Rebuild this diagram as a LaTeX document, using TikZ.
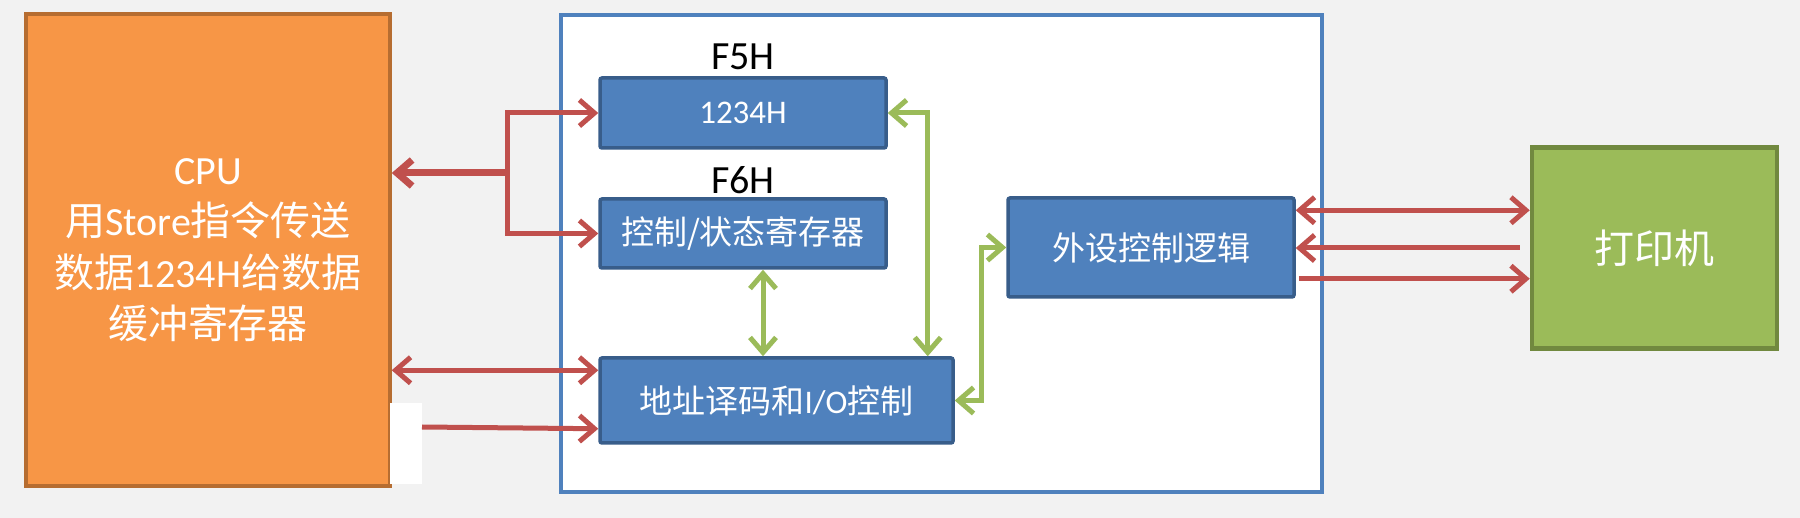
\documentclass[tikz,border=0pt]{standalone}
\usepackage{fontspec}
\setmainfont{Carlito}
\newfontfamily\cjk{Noto Sans CJK SC}
\newcommand{\zh}[1]{{\cjk #1}}
\usetikzlibrary{arrows.meta}
\definecolor{bgray}{HTML}{F2F2F2}
\definecolor{cpuorange}{HTML}{F79646}
\definecolor{cpuedge}{HTML}{B66D31}
\definecolor{regblue}{HTML}{4F81BD}
\definecolor{regedge}{HTML}{385D8A}
\definecolor{prngreen}{HTML}{9BBB59}
\definecolor{prnedge}{HTML}{71893F}
\definecolor{busred}{HTML}{C0504D}
\definecolor{busgreen}{HTML}{9BBB59}

\begin{document}
\begin{tikzpicture}[x=1pt,y=-1pt,
                    >={Straight Barb[length=15pt,width=26pt]},
                    cpubox/.style={draw=cpuedge, fill=cpuorange, line width=3.5pt, text=white,
                                   align=center, inner sep=0pt, font=\fontsize{40}{51.5}\selectfont},
                    regbox/.style={draw=regedge, fill=regblue, line width=3.5pt, rounded corners=2pt,
                                   text=white, inner sep=0pt, font=\fontsize{33}{40}\selectfont},
                    prnbox/.style={draw=prnedge, fill=prngreen, line width=4.5pt, text=white,
                                   inner sep=0pt, font=\fontsize{40}{48}\selectfont},
                    addr/.style={inner sep=0pt, font=\fontsize{40}{48}\selectfont},
                    redbus/.style={draw=busred, line width=5pt},
                    greenbus/.style={draw=busgreen, line width=5pt}]

  \fill[bgray] (0,0) rectangle (1800,518);
  \useasboundingbox (0,0) rectangle (1800,518);

  % interface frame
  \draw[regblue, fill=white, line width=3.5pt] (561,15) rectangle (1322,492);

  \node[cpubox, minimum width=364pt, minimum height=472pt] (cpu) at (208,250)
        {CPU\\\zh{用}Store\zh{指令传送}\\\zh{数据}1234H\zh{给数据}\\\zh{缓冲寄存器}};
  \fill[white] (389.5,403) rectangle (422,484);

  \node[addr] (f5) at (743,57) {F5H};
  \node[regbox, minimum width=286pt, minimum height=70pt] (buf) at (743,113) {1234H};
  \node[addr] (f6) at (743,180) {F6H};
  \node[regbox, minimum width=286pt, minimum height=69pt] (ctrl) at (743,233.5)
        {\zh{控制/状态寄存器}};
  \node[regbox, minimum width=353pt, minimum height=85pt] (dec) at (776.5,400.5)
        {\zh{地址译码和}I/O\zh{控制}};
  \node[regbox, minimum width=286pt, minimum height=99pt] (logic) at (1151,247.5)
        {\zh{外设控制逻辑}};
  \node[prnbox, minimum width=245pt, minimum height=201pt] (prn) at (1654.5,248)
        {\zh{打印机}};

  % data bus from the CPU
  \coordinate (fork) at (507,173);
  \draw[redbus, line width=7pt, ->] (fork) -- (cpu.east |- fork);
  \draw[redbus, ->] (fork) |- (buf.west);
  \draw[redbus, ->] (fork) |- (ctrl.west);

  \coordinate (din) at ([yshift=-14pt]dec.north west);
  \draw[redbus, <->] (cpu.east |- din) -- (din);
  \coordinate (dfeed) at ([yshift=16pt]dec.south west);
  \coordinate (feed) at (422,427);
  \draw[redbus, ->] (feed) -- (dfeed);

  % internal lines
  \coordinate (cs) at ([xshift=20pt]ctrl.south);
  \draw[greenbus, <->] (cs) -- (cs |- dec.north);
  \coordinate (g1) at ([xshift=40pt]buf.east);
  \draw[greenbus, <->] (buf.east) -- (g1) -- (g1 |- dec.north);
  \coordinate (g2) at ([xshift=27pt]dec.east);
  \draw[greenbus, <->] (dec.east) -- (g2) |- (logic.west);

  % printer side
  \coordinate (r1) at ([yshift=-14pt]logic.north east);
  \draw[redbus, <->] (r1) -- (r1 -| prn.west);
  \coordinate (r2) at ([xshift=-10pt]prn.west);
  \draw[redbus, ->] (r2) -- (r2 -| logic.east);
  \coordinate (r3) at ([xshift=3pt,yshift=20pt]logic.south east);
  \draw[redbus, ->] (r3) -- (r3 -| prn.west);
\end{tikzpicture}
\end{document}
